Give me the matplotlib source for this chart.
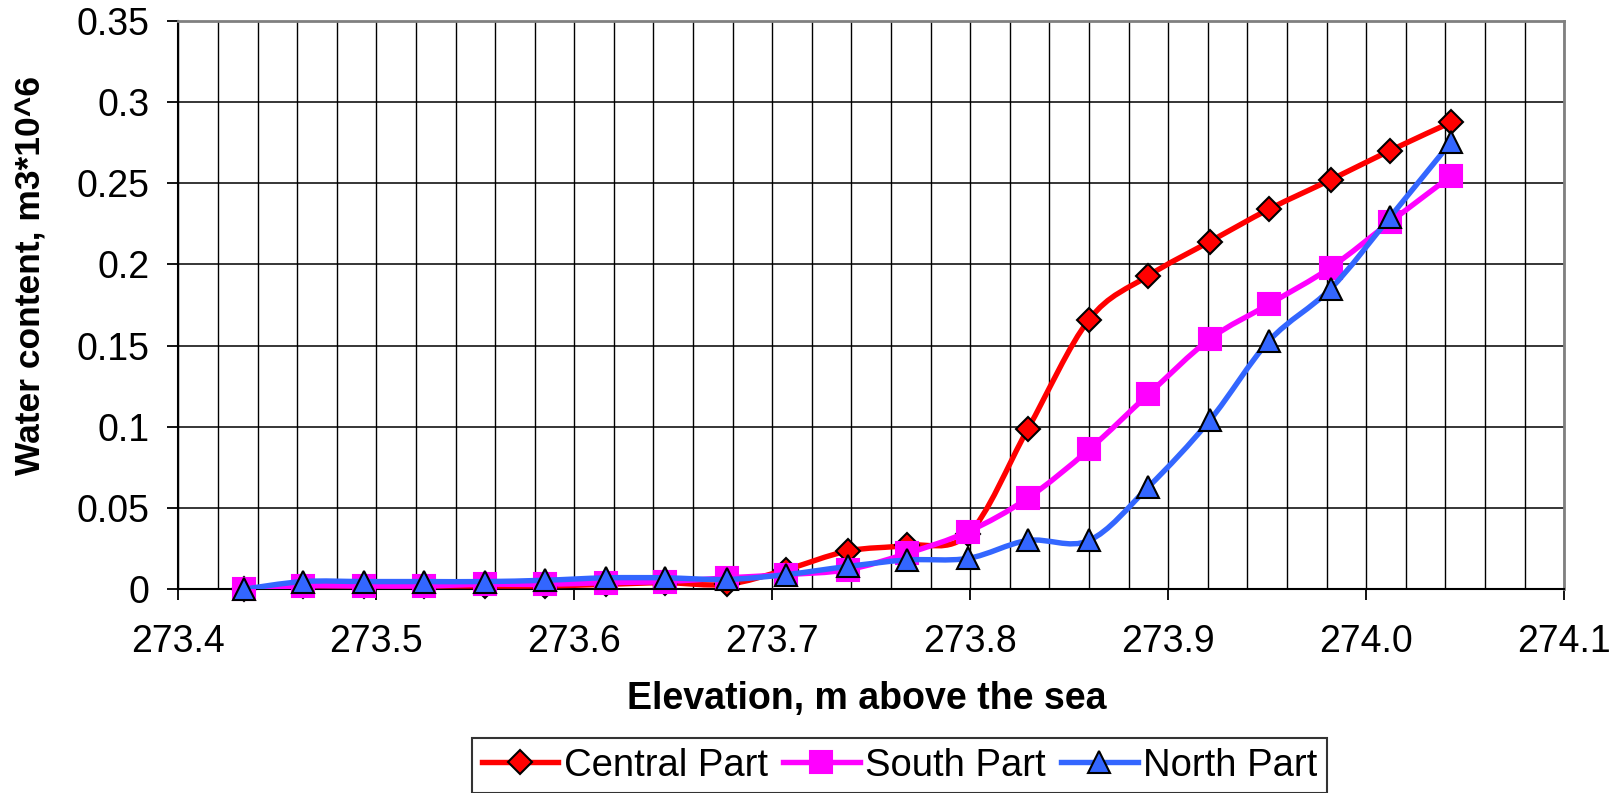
import numpy as np
import matplotlib
matplotlib.use("Agg")
import matplotlib.pyplot as plt
from matplotlib.path import Path
from matplotlib.patches import PathPatch
from matplotlib.lines import Line2D

plt.rcParams['font.family'] = ['Liberation Sans', 'DejaVu Sans']

# elevation steps (m above the sea)
elevation = [273.433, 273.463, 273.494, 273.524, 273.555, 273.585, 273.616,
             273.646, 273.677, 273.707, 273.738, 273.768, 273.799, 273.829,
             273.860, 273.890, 273.921, 273.951, 273.982, 274.012, 274.043]

central = [0.000, 0.002, 0.002, 0.002, 0.002, 0.002, 0.003, 0.004, 0.003, 0.012,
           0.0235, 0.027, 0.034, 0.0985, 0.166, 0.193, 0.214, 0.234, 0.252,
           0.270, 0.2875]
south = [0.000, 0.002, 0.002, 0.002, 0.003, 0.003, 0.004, 0.0047, 0.007, 0.009,
         0.012, 0.022, 0.0355, 0.056, 0.086, 0.120, 0.154, 0.1755, 0.198,
         0.226, 0.2545]
north = [0.000, 0.0047, 0.0047, 0.0047, 0.0047, 0.0055, 0.007, 0.007, 0.006,
         0.009, 0.014, 0.018, 0.019, 0.030, 0.030, 0.063, 0.104, 0.153, 0.185,
         0.229, 0.2755]

names = ['Central Part', 'South Part', 'North Part']
colors = ['#FF0000', '#FF00FF', '#3366FF']
markers = ['D', 's', '^']
msizes = [12, 16, 16]
edges = ['black', '#FF00FF', 'black']

x_major = [273.4, 273.5, 273.6, 273.7, 273.8, 273.9, 274.0, 274.1]
y_major = [0, 0.05, 0.1, 0.15, 0.2, 0.25, 0.3, 0.35]


def smooth_path(xs, ys):
    # Excel-style smoothed line: cubic Bezier segments, Catmull-Rom tangents
    pts = np.column_stack([xs, ys])
    n = len(pts)
    verts = [pts[0]]
    codes = [Path.MOVETO]
    for i in range(n - 1):
        p0 = pts[i - 1] if i > 0 else pts[i]
        p1, p2 = pts[i], pts[i + 1]
        p3 = pts[i + 2] if i + 2 < n else pts[i + 1]
        verts += [p1 + (p2 - p0) / 6, p2 - (p3 - p1) / 6, p2]
        codes += [Path.CURVE4] * 3
    return Path(verts, codes)


fig = plt.figure(figsize=(16.21, 7.93), dpi=100)
ax = fig.add_axes([0.110, 0.257, 0.855, 0.717])

handles = []
for i, ys in enumerate([central, south, north]):
    ax.add_patch(PathPatch(smooth_path(elevation, ys), fill=False,
                           edgecolor=colors[i], lw=3.9, zorder=3 + 2 * i,
                           capstyle='round', joinstyle='round'))
    ax.plot(elevation, ys, linestyle='none', marker=markers[i],
            ms=msizes[i], mfc=colors[i], mec=edges[i], mew=1.5,
            zorder=4 + 2 * i, clip_on=False)
    handles.append(Line2D([], [], color=colors[i], lw=3.9, marker=markers[i],
                          ms=msizes[i], mfc=colors[i], mec=edges[i],
                          mew=1.5))

ax.set_xlim(273.4, 274.1)
ax.set_ylim(0, 0.35)
ax.set_xticks(x_major)
ax.set_xticklabels([f'{v:.1f}' for v in x_major])
ax.set_xticks(np.arange(273.4, 274.1001, 0.02), minor=True)
ax.set_yticks(y_major)
ax.set_yticklabels([f'{v:g}' for v in y_major])

ax.grid(True, which='both', axis='x', color='black', lw=1.0)
ax.grid(True, which='major', axis='y', color='black', lw=1.1)
ax.set_axisbelow(True)

ax.tick_params(which='major', direction='out', length=8, width=1.3,
               labelsize=27, color='black')
ax.tick_params(axis='x', which='major', pad=17)
ax.tick_params(axis='y', which='major', pad=13)
ax.tick_params(which='minor', length=0)

for side in ['left', 'bottom']:
    ax.spines[side].set_color('black')
    ax.spines[side].set_linewidth(1.5)
for side in ['top', 'right']:
    ax.spines[side].set_color('#808080')
    ax.spines[side].set_linewidth(2)

fig.text(0.535, 0.119, 'Elevation, m above the sea', ha='center',
         va='center', fontsize=27, fontweight='bold')
fig.text(0.019, 0.652, 'Water content, m3*10^6', ha='center', va='center',
         rotation=90, fontsize=25.5, fontweight='bold')

leg = fig.legend(handles, names, loc='upper center',
                 bbox_to_anchor=(0.555, 0.069), ncol=3, fontsize=27.5,
                 frameon=True, fancybox=False, edgecolor='black',
                 handlelength=2.0, handletextpad=0.15, columnspacing=0.4,
                 borderpad=0.25, borderaxespad=0)
leg.get_frame().set_linewidth(1.5)

fig.savefig('out.png', dpi=100)
